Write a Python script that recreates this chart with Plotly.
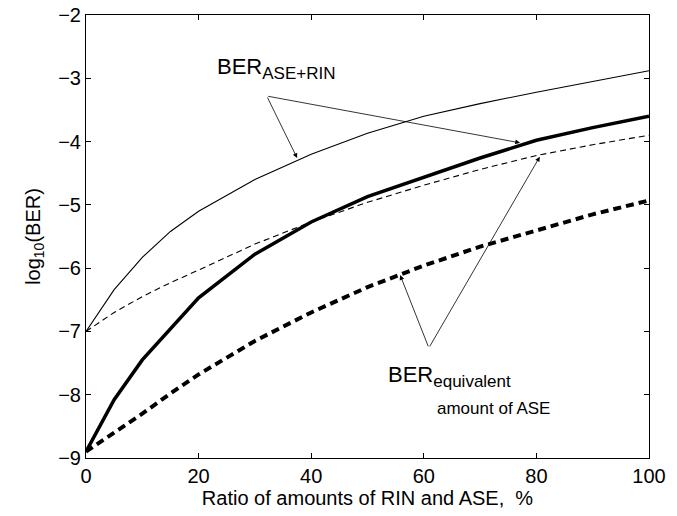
import plotly.graph_objects as go

x_pct = [0, 5, 10, 15, 20, 30, 40, 50, 60, 70, 80, 90, 100]
ber_ase_rin_thin = [-7.0, -6.34, -5.83, -5.42, -5.1, -4.6, -4.2, -3.87, -3.6, -3.4, -3.22, -3.05, -2.88]
ber_ase_rin_thick = [-8.9, -8.08, -7.45, -6.95, -6.47, -5.78, -5.27, -4.87, -4.56, -4.26, -3.98, -3.78, -3.6]
ber_equiv_thin = [-7.0, -6.7, -6.45, -6.23, -6.03, -5.62, -5.27, -4.96, -4.69, -4.44, -4.22, -4.05, -3.9]
ber_equiv_thick = [-8.9, -8.6, -8.3, -7.98, -7.68, -7.15, -6.7, -6.3, -5.96, -5.66, -5.4, -5.15, -4.93]

x_ticks = [0, 20, 40, 60, 80, 100]
y_ticks = [-9, -8, -7, -6, -5, -4, -3, -2]

FONT = "Liberation Sans, Arial, Helvetica, sans-serif"

fig = go.Figure()
fig.add_trace(go.Scatter(x=x_pct, y=ber_ase_rin_thin, mode="lines",
                         line=dict(color="black", width=1.1)))
fig.add_trace(go.Scatter(x=x_pct, y=ber_equiv_thin, mode="lines",
                         line=dict(color="black", width=1.1, dash="6px,4px")))
fig.add_trace(go.Scatter(x=x_pct, y=ber_ase_rin_thick, mode="lines",
                         line=dict(color="black", width=3.5)))
fig.add_trace(go.Scatter(x=x_pct, y=ber_equiv_thick, mode="lines",
                         line=dict(color="black", width=4, dash="8px,5px")))

# text labels
fig.add_annotation(x=23.0, y=-2.85, xref="x", yref="y", showarrow=False,
                   text="BER<sub><span style='font-size:17px'>ASE+RIN</span></sub>",
                   xanchor="left", yanchor="middle",
                   font=dict(family=FONT, size=22, color="black"))
fig.add_annotation(x=53.2, y=-7.72, xref="x", yref="y", showarrow=False,
                   text="BER<sub><span style='font-size:17px'>equivalent</span></sub>",
                   xanchor="left", yanchor="middle",
                   font=dict(family=FONT, size=22, color="black"))
fig.add_annotation(x=62.0, y=-8.22, xref="x", yref="y", showarrow=False,
                   text="amount of ASE", xanchor="left", yanchor="middle",
                   font=dict(family=FONT, size=17, color="black"))

# arrows
arrows = [
    (32.1, -3.28, 37.5, -4.26),
    (32.1, -3.28, 77.1, -4.02),
    (60.9, -7.26, 55.8, -6.11),
    (60.9, -7.26, 80.6, -4.24),
]
for ax0, ay0, x1, y1 in arrows:
    fig.add_annotation(x=x1, y=y1, ax=ax0, ay=ay0, xref="x", yref="y",
                       axref="x", ayref="y", text="", showarrow=True,
                       arrowhead=2, arrowsize=1.2, arrowwidth=0.8, arrowcolor="black",
                       standoff=0, startstandoff=0)

axis_common = dict(showline=True, linecolor="black", linewidth=1, mirror="ticks",
                   ticks="inside", ticklen=5, tickcolor="black", showgrid=False,
                   zeroline=False, automargin=False,
                   tickfont=dict(family=FONT, size=20, color="black"))

fig.update_xaxes(range=[0, 100], tickvals=x_ticks, ticktext=[str(v) for v in x_ticks],
                 title=dict(text="Ratio of amounts of RIN and ASE,\u00a0\u00a0%",
                            font=dict(family=FONT, size=20, color="black"), standoff=0),
                 **axis_common)
fig.update_yaxes(range=[-9, -2], tickvals=y_ticks,
                 ticktext=[str(v).replace("-", "\u2212") for v in y_ticks],
                 title=dict(text="log<sub>10</sub>(BER)",
                            font=dict(family=FONT, size=20, color="black"), standoff=12),
                 **axis_common)

fig.update_layout(width=677, height=516, margin=dict(l=86, r=28, t=15, b=58),
                  plot_bgcolor="white", paper_bgcolor="white", showlegend=False,
                  font=dict(family=FONT, color="black"))

fig.write_html("out.html", config={"displayModeBar": False},
               post_script="document.body.style.margin='0px';document.body.style.overflow='hidden';")
